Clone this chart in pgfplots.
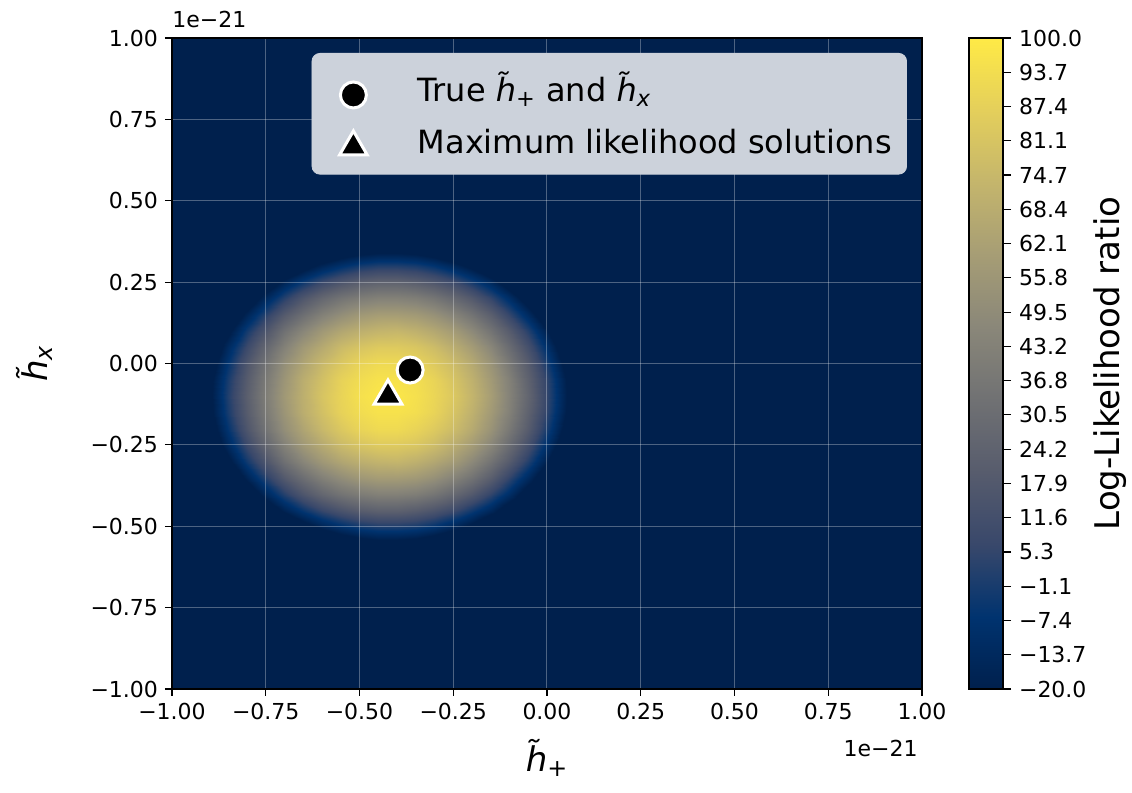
\documentclass[border=0pt]{standalone}
\usepackage{fontspec}
\setmainfont{DejaVu Sans}
\setsansfont{DejaVu Sans}
\usepackage{pgfplots}
\pgfplotsset{compat=1.18}
\usetikzlibrary{calc}
\definecolor{legfill}{RGB}{204,210,219}
\definecolor{cvmin}{RGB}{0,32,77}
% cividis, with two extra dark steps below -20 so that the edge of the field is interpolated smoothly
\pgfplotsset{
  colormap={cividisx}{rgb255=(0,32,77) rgb255=(0,32,77) rgb255=(0,32,77) rgb255=(0,51,111) rgb255=(57,72,107) rgb255=(87,92,109) rgb255=(112,113,115) rgb255=(138,135,121) rgb255=(166,157,117) rgb255=(196,181,108) rgb255=(228,207,91) rgb255=(255,234,70)}
}
\newcommand{\hplus}{{\itshape h^^^^0303}\textsubscript{+}}
\newcommand{\hx}{{\itshape h^^^^0303}\textsubscript{\itshape x}}
\begin{document}
\begin{tikzpicture}
\begin{axis}[
  name=main,
  scale only axis, width=375pt, height=325.5pt,
  xmin=-1, xmax=1, ymin=-1, ymax=1,
  xtick={-1,-0.75,-0.5,-0.25,0,0.25,0.5,0.75,1},
  ytick={-1,-0.75,-0.5,-0.25,0,0.25,0.5,0.75,1},
  xticklabels={−1.00,−0.75,−0.50,−0.25,0.00,0.25,0.50,0.75,1.00},
  yticklabels={−1.00,−0.75,−0.50,−0.25,0.00,0.25,0.50,0.75,1.00},
  tick label style={font=\fontsize{11}{13}\selectfont},
  xtick pos=left, ytick pos=left,
  tick align=outside, major tick length=3.5pt,
  tick style={black, line width=0.6pt},
  grid=major, major grid style={white, opacity=0.3, line width=0.5pt},
  axis on top,
  axis line style={line width=0.8pt},
  axis background/.style={fill=cvmin},
  colormap name=cividisx,
  point meta min=-46.667, point meta max=100,
  xlabel={\hplus}, ylabel={\hx},
  label style={font=\fontsize{17}{20}\selectfont},
  xlabel style={at={(axis description cs:0.5,-0.106)}, anchor=center},
  ylabel style={at={(axis description cs:-0.183,0.5)}, anchor=center},
  legend cell align=left,
  legend style={
    at={(0.98,0.977)}, anchor=north east,
    fill=legfill, draw=legfill, rounded corners=4pt,
    font=\fontsize{16}{19}\selectfont,
    inner xsep=4.5pt, inner ysep=4.2pt,
    column sep=9pt, row sep=0pt,
    nodes={inner xsep=3pt, inner ysep=6pt, text height=14pt, text depth=0pt},
  },
  legend image code/.code={\path (0pt,0pt) (36pt,0pt); \draw[#1] plot coordinates {(16pt,-3.6pt)};},
]
\addplot[surf, shader=interp, mesh/cols=22, point meta=explicit, forget plot] coordinates {
(-.95,-.55)[-45] (-.9,-.55)[-45] (-.85,-.55)[-45] (-.8,-.55)[-45] (-.75,-.55)[-45] (-.7,-.55)[-45] (-.65,-.55)[-45] (-.6,-.55)[-41] (-.55,-.55)[-33] (-.5,-.55)[-28] (-.45,-.55)[-25] (-.4,-.55)[-25] (-.35,-.55)[-27] (-.3,-.55)[-32] (-.25,-.55)[-40] (-.2,-.55)[-45] (-.15,-.55)[-45] (-.1,-.55)[-45] (-.05,-.55)[-45] (0,-.55)[-45] (.05,-.55)[-45] (.1,-.55)[-45]
(-.95,-.5)[-45] (-.9,-.5)[-45] (-.85,-.5)[-45] (-.8,-.5)[-45] (-.75,-.5)[-45] (-.7,-.5)[-40] (-.65,-.5)[-27] (-.6,-.5)[-16] (-.55,-.5)[-8] (-.5,-.5)[-2] (-.45,-.5)[1] (-.4,-.5)[1] (-.35,-.5)[-1] (-.3,-.5)[-6] (-.25,-.5)[-14] (-.2,-.5)[-24] (-.15,-.5)[-37] (-.1,-.5)[-45] (-.05,-.5)[-45] (0,-.5)[-45] (.05,-.5)[-45] (.1,-.5)[-45]
(-.95,-.45)[-45] (-.9,-.45)[-45] (-.85,-.45)[-45] (-.8,-.45)[-45] (-.75,-.45)[-33] (-.7,-.45)[-17] (-.65,-.45)[-4] (-.6,-.45)[7] (-.55,-.45)[15] (-.5,-.45)[21] (-.45,-.45)[24] (-.4,-.45)[24] (-.35,-.45)[21] (-.3,-.45)[16] (-.25,-.45)[9] (-.2,-.45)[-2] (-.15,-.45)[-14] (-.1,-.45)[-30] (-.05,-.45)[-45] (0,-.45)[-45] (.05,-.45)[-45] (.1,-.45)[-45]
(-.95,-.4)[-45] (-.9,-.4)[-45] (-.85,-.4)[-45] (-.8,-.4)[-33] (-.75,-.4)[-14] (-.7,-.4)[2] (-.65,-.4)[16] (-.6,-.4)[27] (-.55,-.4)[35] (-.5,-.4)[40] (-.45,-.4)[43] (-.4,-.4)[43] (-.35,-.4)[41] (-.3,-.4)[36] (-.25,-.4)[28] (-.2,-.4)[18] (-.15,-.4)[5] (-.1,-.4)[-10] (-.05,-.4)[-29] (0,-.4)[-45] (.05,-.4)[-45] (.1,-.4)[-45]
(-.95,-.35)[-45] (-.9,-.35)[-45] (-.85,-.35)[-37] (-.8,-.35)[-16] (-.75,-.35)[3] (-.7,-.35)[19] (-.65,-.35)[32] (-.6,-.35)[43] (-.55,-.35)[51] (-.5,-.35)[57] (-.45,-.35)[60] (-.4,-.35)[60] (-.35,-.35)[58] (-.3,-.35)[53] (-.25,-.35)[45] (-.2,-.35)[35] (-.15,-.35)[22] (-.1,-.35)[6] (-.05,-.35)[-12] (0,-.35)[-33] (.05,-.35)[-45] (.1,-.35)[-45]
(-.95,-.3)[-45] (-.9,-.3)[-45] (-.85,-.3)[-24] (-.8,-.3)[-2] (-.75,-.3)[16] (-.7,-.3)[33] (-.65,-.3)[46] (-.6,-.3)[57] (-.55,-.3)[65] (-.5,-.3)[70] (-.45,-.3)[73] (-.4,-.3)[74] (-.35,-.3)[71] (-.3,-.3)[66] (-.25,-.3)[59] (-.2,-.3)[48] (-.15,-.3)[35] (-.1,-.3)[20] (-.05,-.3)[2] (0,-.3)[-19] (.05,-.3)[-43] (.1,-.3)[-45]
(-.95,-.25)[-45] (-.9,-.25)[-37] (-.85,-.25)[-13] (-.8,-.25)[8] (-.75,-.25)[27] (-.7,-.25)[43] (-.65,-.25)[57] (-.6,-.25)[67] (-.55,-.25)[76] (-.5,-.25)[81] (-.45,-.25)[84] (-.4,-.25)[84] (-.35,-.25)[82] (-.3,-.25)[77] (-.25,-.25)[69] (-.2,-.25)[59] (-.15,-.25)[46] (-.1,-.25)[30] (-.05,-.25)[12] (0,-.25)[-9] (.05,-.25)[-32] (.1,-.25)[-45]
(-.95,-.2)[-45] (-.9,-.2)[-30] (-.85,-.2)[-6] (-.8,-.2)[16] (-.75,-.2)[35] (-.7,-.2)[51] (-.65,-.2)[64] (-.6,-.2)[75] (-.55,-.2)[83] (-.5,-.2)[89] (-.45,-.2)[92] (-.4,-.2)[92] (-.35,-.2)[89] (-.3,-.2)[84] (-.25,-.2)[77] (-.2,-.2)[67] (-.15,-.2)[54] (-.1,-.2)[38] (-.05,-.2)[20] (0,-.2)[-1] (.05,-.2)[-25] (.1,-.2)[-45]
(-.95,-.15)[-45] (-.9,-.15)[-25] (-.85,-.15)[-1] (-.8,-.15)[20] (-.75,-.15)[39] (-.7,-.15)[55] (-.65,-.15)[69] (-.6,-.15)[79] (-.55,-.15)[88] (-.5,-.15)[93] (-.45,-.15)[96] (-.4,-.15)[96] (-.35,-.15)[94] (-.3,-.15)[89] (-.25,-.15)[81] (-.2,-.15)[71] (-.15,-.15)[58] (-.1,-.15)[43] (-.05,-.15)[24] (0,-.15)[4] (.05,-.15)[-20] (.1,-.15)[-45]
(-.95,-.1)[-45] (-.9,-.1)[-24] (-.85,-.1)[1] (-.8,-.1)[22] (-.75,-.1)[41] (-.7,-.1)[57] (-.65,-.1)[70] (-.6,-.1)[81] (-.55,-.1)[89] (-.5,-.1)[95] (-.45,-.1)[98] (-.4,-.1)[98] (-.35,-.1)[95] (-.3,-.1)[90] (-.25,-.1)[83] (-.2,-.1)[73] (-.15,-.1)[60] (-.1,-.1)[44] (-.05,-.1)[26] (0,-.1)[5] (.05,-.1)[-19] (.1,-.1)[-45]
(-.95,-.05)[-45] (-.9,-.05)[-25] (-.85,-.05)[-1] (-.8,-.05)[20] (-.75,-.05)[39] (-.7,-.05)[55] (-.65,-.05)[69] (-.6,-.05)[79] (-.55,-.05)[88] (-.5,-.05)[93] (-.45,-.05)[96] (-.4,-.05)[96] (-.35,-.05)[94] (-.3,-.05)[89] (-.25,-.05)[81] (-.2,-.05)[71] (-.15,-.05)[58] (-.1,-.05)[43] (-.05,-.05)[24] (0,-.05)[4] (.05,-.05)[-20] (.1,-.05)[-45]
(-.95,0)[-45] (-.9,0)[-30] (-.85,0)[-6] (-.8,0)[16] (-.75,0)[35] (-.7,0)[51] (-.65,0)[64] (-.6,0)[75] (-.55,0)[83] (-.5,0)[89] (-.45,0)[92] (-.4,0)[92] (-.35,0)[89] (-.3,0)[84] (-.25,0)[77] (-.2,0)[67] (-.15,0)[54] (-.1,0)[38] (-.05,0)[20] (0,0)[-1] (.05,0)[-25] (.1,0)[-45]
(-.95,.05)[-45] (-.9,.05)[-37] (-.85,.05)[-13] (-.8,.05)[8] (-.75,.05)[27] (-.7,.05)[43] (-.65,.05)[57] (-.6,.05)[67] (-.55,.05)[76] (-.5,.05)[81] (-.45,.05)[84] (-.4,.05)[84] (-.35,.05)[82] (-.3,.05)[77] (-.25,.05)[69] (-.2,.05)[59] (-.15,.05)[46] (-.1,.05)[30] (-.05,.05)[12] (0,.05)[-9] (.05,.05)[-32] (.1,.05)[-45]
(-.95,.1)[-45] (-.9,.1)[-45] (-.85,.1)[-24] (-.8,.1)[-2] (-.75,.1)[16] (-.7,.1)[33] (-.65,.1)[46] (-.6,.1)[57] (-.55,.1)[65] (-.5,.1)[70] (-.45,.1)[73] (-.4,.1)[74] (-.35,.1)[71] (-.3,.1)[66] (-.25,.1)[59] (-.2,.1)[48] (-.15,.1)[35] (-.1,.1)[20] (-.05,.1)[2] (0,.1)[-19] (.05,.1)[-43] (.1,.1)[-45]
(-.95,.15)[-45] (-.9,.15)[-45] (-.85,.15)[-37] (-.8,.15)[-16] (-.75,.15)[3] (-.7,.15)[19] (-.65,.15)[32] (-.6,.15)[43] (-.55,.15)[51] (-.5,.15)[57] (-.45,.15)[60] (-.4,.15)[60] (-.35,.15)[58] (-.3,.15)[53] (-.25,.15)[45] (-.2,.15)[35] (-.15,.15)[22] (-.1,.15)[6] (-.05,.15)[-12] (0,.15)[-33] (.05,.15)[-45] (.1,.15)[-45]
(-.95,.2)[-45] (-.9,.2)[-45] (-.85,.2)[-45] (-.8,.2)[-33] (-.75,.2)[-14] (-.7,.2)[2] (-.65,.2)[16] (-.6,.2)[27] (-.55,.2)[35] (-.5,.2)[40] (-.45,.2)[43] (-.4,.2)[43] (-.35,.2)[41] (-.3,.2)[36] (-.25,.2)[28] (-.2,.2)[18] (-.15,.2)[5] (-.1,.2)[-10] (-.05,.2)[-29] (0,.2)[-45] (.05,.2)[-45] (.1,.2)[-45]
(-.95,.25)[-45] (-.9,.25)[-45] (-.85,.25)[-45] (-.8,.25)[-45] (-.75,.25)[-33] (-.7,.25)[-17] (-.65,.25)[-4] (-.6,.25)[7] (-.55,.25)[15] (-.5,.25)[21] (-.45,.25)[24] (-.4,.25)[24] (-.35,.25)[21] (-.3,.25)[16] (-.25,.25)[9] (-.2,.25)[-2] (-.15,.25)[-14] (-.1,.25)[-30] (-.05,.25)[-45] (0,.25)[-45] (.05,.25)[-45] (.1,.25)[-45]
(-.95,.3)[-45] (-.9,.3)[-45] (-.85,.3)[-45] (-.8,.3)[-45] (-.75,.3)[-45] (-.7,.3)[-40] (-.65,.3)[-27] (-.6,.3)[-16] (-.55,.3)[-8] (-.5,.3)[-2] (-.45,.3)[1] (-.4,.3)[1] (-.35,.3)[-1] (-.3,.3)[-6] (-.25,.3)[-14] (-.2,.3)[-24] (-.15,.3)[-37] (-.1,.3)[-45] (-.05,.3)[-45] (0,.3)[-45] (.05,.3)[-45] (.1,.3)[-45]
(-.95,.35)[-45] (-.9,.35)[-45] (-.85,.35)[-45] (-.8,.35)[-45] (-.75,.35)[-45] (-.7,.35)[-45] (-.65,.35)[-45] (-.6,.35)[-41] (-.55,.35)[-33] (-.5,.35)[-28] (-.45,.35)[-25] (-.4,.35)[-25] (-.35,.35)[-27] (-.3,.35)[-32] (-.25,.35)[-40] (-.2,.35)[-45] (-.15,.35)[-45] (-.1,.35)[-45] (-.05,.35)[-45] (0,.35)[-45] (.05,.35)[-45] (.1,.35)[-45]
};
\addplot[only marks, mark=*, mark size=6.5pt, mark options={fill=black, draw=white, line width=1.5pt}] coordinates {(-0.365,-0.02)};
\addlegendentry{True \hplus\ and \hx}
\addplot[only marks, mark=triangle*, mark size=8pt, mark options={fill=black, draw=white, line width=1.5pt}] coordinates {(-0.424,-0.10)};
\addlegendentry{Maximum likelihood solutions}
\end{axis}
% colour bar
\begin{axis}[
  at={(main.north east)}, anchor=north west, xshift=23.5pt,
  scale only axis, width=17pt, height=325.5pt,
  xmin=0, xmax=1, ymin=-20, ymax=100,
  xtick=\empty,
  ytick={-20,-13.684,-7.368,-1.053,5.263,11.579,17.895,24.211,30.526,36.842,43.158,49.474,55.789,62.105,68.421,74.737,81.053,87.368,93.684,100},
  yticklabels={−20.0,−13.7,−7.4,−1.1,5.3,11.6,17.9,24.2,30.5,36.8,43.2,49.5,55.8,62.1,68.4,74.7,81.1,87.4,93.7,100.0},
  yticklabel style={font=\fontsize{11}{13}\selectfont, xshift=0.5pt},
  ytick pos=right, yticklabel pos=right,
  tick align=outside, major tick length=4pt,
  tick style={black, line width=0.6pt},
  axis line style={line width=0.8pt},
  axis on top,
  colormap name=cividisx,
  point meta min=-46.667, point meta max=100,
  ylabel={Log-Likelihood ratio},
  ylabel style={font=\fontsize{17}{20}\selectfont, at={(axis description cs:4.15,0.5)}, anchor=center},
]
\addplot[surf, shader=interp, mesh/cols=2, point meta=explicit] coordinates {
(0,-20)[-20] (1,-20)[-20]
(0,-6.667)[-6.667] (1,-6.667)[-6.667]
(0,6.667)[6.667] (1,6.667)[6.667]
(0,20)[20] (1,20)[20]
(0,33.333)[33.333] (1,33.333)[33.333]
(0,46.667)[46.667] (1,46.667)[46.667]
(0,60)[60] (1,60)[60]
(0,73.333)[73.333] (1,73.333)[73.333]
(0,86.667)[86.667] (1,86.667)[86.667]
(0,100)[100] (1,100)[100]
};
\end{axis}
\node[anchor=south west, inner sep=0pt, font=\fontsize{11}{13}\selectfont] at ($(main.north west)+(0pt,5pt)$) {1e−21};
\node[anchor=north east, inner sep=0pt, font=\fontsize{11}{13}\selectfont] at ($(main.south east)+(-2pt,-25.5pt)$) {1e−21};
\pgfresetboundingbox
\path ($(main.south west)+(-86pt,-52pt)$) rectangle ($(main.south west)+(480pt,344.5pt)$);
\end{tikzpicture}
\end{document}
